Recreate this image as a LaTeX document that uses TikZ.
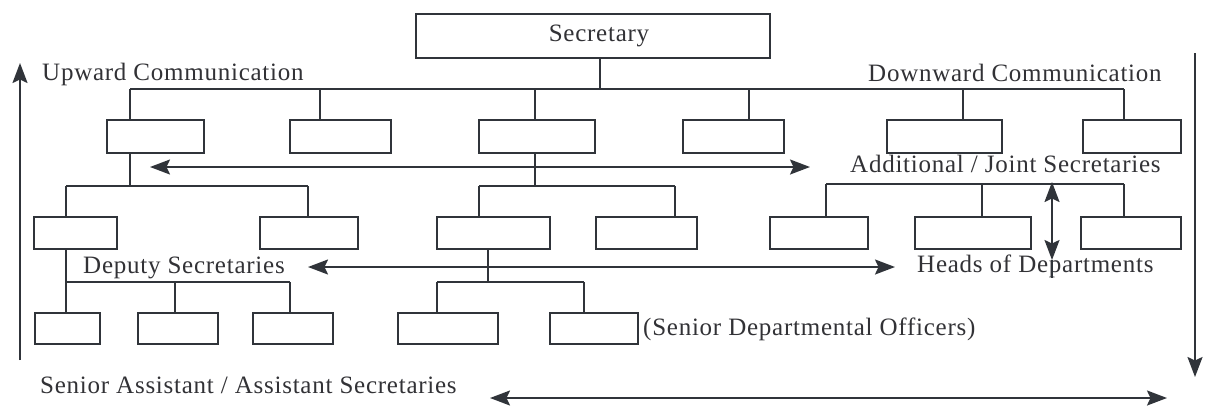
\documentclass[tikz,border=0pt]{standalone}
\usepackage{fontspec}
\setmainfont{Liberation Serif}[LetterSpace=3]
\usetikzlibrary{arrows.meta}
\definecolor{ink}{RGB}{48,52,58}
\definecolor{txt}{RGB}{50,50,54}
\tikzset{headtip/.tip={Stealth[length=20pt,width=15pt,inset=3.5pt]}}
\begin{document}
\begin{tikzpicture}[x=1pt,y=-1pt,
  bx/.style={draw=ink,line width=1.4pt,inner sep=0pt,minimum height=32pt},
  ln/.style={draw=ink,line width=1.4pt},
  arr/.style={draw=ink,line width=1.9pt,-headtip},
  darr/.style={draw=ink,line width=1.9pt,headtip-headtip},
  lbl/.style={inner sep=0pt,anchor=west,text=txt,font=\fontsize{25}{29}\selectfont}]
\useasboundingbox (0,0) rectangle (1212,408);
\fill[white] (0,0) rectangle (1212,408);

% top
\node[bx,minimum width=354pt,minimum height=44pt,text=txt,font=\fontsize{25}{29}\selectfont] (sec) at (593,36) {\hspace*{12pt}Secretary};

% first level
\node[bx,minimum width=97pt,minimum height=33pt]  (l1a) at (155.5,136.5) {};
\node[bx,minimum width=101pt,minimum height=33pt] (l1b) at (340.5,136.5) {};
\node[bx,minimum width=116pt,minimum height=33pt] (l1c) at (537,136.5) {};
\node[bx,minimum width=101pt,minimum height=33pt] (l1d) at (733.5,136.5) {};
\node[bx,minimum width=115pt,minimum height=33pt] (l1e) at (944.5,136.5) {};
\node[bx,minimum width=98pt,minimum height=33pt]  (l1f) at (1132,136.5) {};

% second level
\node[bx,minimum width=83pt]  (l2a) at (75.5,233) {};
\node[bx,minimum width=98pt]  (l2b) at (309,233) {};
\node[bx,minimum width=113pt] (l2c) at (493.5,233) {};
\node[bx,minimum width=101pt] (l2d) at (646.5,233) {};
\node[bx,minimum width=98pt]  (l2e) at (819,233) {};
\node[bx,minimum width=116pt] (l2f) at (973,233) {};
\node[bx,minimum width=100pt] (l2g) at (1131,233) {};

% third level
\node[bx,minimum width=65pt,minimum height=31pt]  (l3a) at (67.5,328.5) {};
\node[bx,minimum width=80pt,minimum height=31pt]  (l3b) at (178,328.5) {};
\node[bx,minimum width=80pt,minimum height=31pt]  (l3c) at (293,328.5) {};
\node[bx,minimum width=100pt,minimum height=31pt] (l3d) at (448,328.5) {};
\node[bx,minimum width=88pt,minimum height=31pt]  (l3e) at (594,328.5) {};

% labels
\node[lbl] (up)   at (42,74)   {Upward Communication};
\node[lbl] (down) at (868,73)  {Downward Communication};
\node[lbl] (ajs)  at (850,164) {Additional / Joint Secretaries};
\node[lbl] (dep)  at (83,268)  {Deputy Secretaries};
\node[lbl] (hod)  at (917,266) {Heads of Departments};
\node[lbl] (sdo)  at (643,329) {(Senior Departmental Officers)};
\node[lbl] (sas)  at (40,385)  {Senior Assistant / Assistant Secretaries};

% bus junctions
\coordinate (s0) at (600,89);
\coordinate (b0L) at (130,89);  \coordinate (b0b) at (320,89);
\coordinate (b0c) at (535,89);  \coordinate (b0d) at (749,89);
\coordinate (b0e) at (963,89);  \coordinate (b0R) at (1124,89);

\coordinate (bAL) at (66,186);  \coordinate (bAR) at (308,186);  \coordinate (bAs) at (130,186);
\coordinate (bBL) at (479,186); \coordinate (bBR) at (675,186);  \coordinate (bBs) at (535,186);
\coordinate (bCL) at (826,184); \coordinate (bCm) at (982,184);  \coordinate (bCR) at (1124,184);

\coordinate (bDL) at (66,282);  \coordinate (bDm) at (175,282);  \coordinate (bDR) at (290,282);
\coordinate (bEL) at (437,282); \coordinate (bEs) at (488,282);  \coordinate (bER) at (584,282);

% secretary to first level
\draw[ln] (sec.south -| s0) -- (s0);
\draw[ln] (b0L) -- (b0R);
\foreach \c/\n in {b0L/l1a,b0b/l1b,b0c/l1c,b0d/l1d,b0e/l1e,b0R/l1f}
  \draw[ln] (\c) -- (\c |- \n.north);

% first to second level
\draw[ln] (l1a.south -| bAs) -- (bAs);
\draw[ln] (bAL) -- (bAR);
\draw[ln] (bAL) -- (bAL |- l2a.north);
\draw[ln] (bAR) -- (bAR |- l2b.north);

\draw[ln] (l1c.south -| bBs) -- (bBs);
\draw[ln] (bBL) -- (bBR);
\draw[ln] (bBL) -- (bBL |- l2c.north);
\draw[ln] (bBR) -- (bBR |- l2d.north);

\draw[ln] (bCL) -- (bCR);
\draw[ln] (bCL) -- (bCL |- l2e.north);
\draw[ln] (bCm) -- (bCm |- l2f.north);
\draw[ln] (bCR) -- (bCR |- l2g.north);

% second to third level
\draw[ln] (l2a.south -| bDL) -- (bDL);
\draw[ln] (bDL) -- (bDR);
\draw[ln] (bDL) -- (bDL |- l3a.north);
\draw[ln] (bDm) -- (bDm |- l3b.north);
\draw[ln] (bDR) -- (bDR |- l3c.north);

\draw[ln] (l2c.south -| bEs) -- (bEs);
\draw[ln] (bEL) -- (bER);
\draw[ln] (bEL) -- (bEL |- l3d.north);
\draw[ln] (bER) -- (bER |- l3e.north);

% communication arrows
\coordinate (upB) at (20,360);   \coordinate (upT) at (20,63);
\coordinate (dnT) at (1195,53);  \coordinate (dnB) at (1195,377);
\draw[arr] (upB) -- (upT);
\draw[arr] (dnT) -- (dnB);

\coordinate (h1L) at (150,167);  \coordinate (h1R) at (810,167);
\coordinate (h2L) at (308,267);  \coordinate (h2R) at (895,267);
\coordinate (h3L) at (490,398);  \coordinate (h3R) at (1167,398);
\draw[darr] (h1L) -- (h1R);
\draw[darr] (h2L) -- (h2R);
\draw[darr] (h3L) -- (h3R);

\coordinate (vT) at (1052,182);  \coordinate (vB) at (1052,260);  \coordinate (vE) at (1052,278);
\draw[darr] (vT) -- (vB);
\draw[ln,line width=1.9pt] (vB) -- (vE);
\end{tikzpicture}
\end{document}
